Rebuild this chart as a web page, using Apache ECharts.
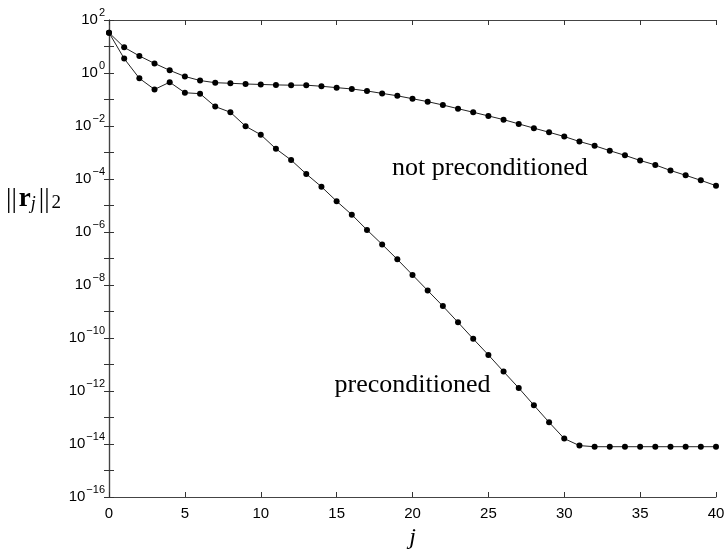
<!DOCTYPE html>
<html>
<head>
<meta charset="utf-8">
<script src="https://cdn.jsdelivr.net/npm/echarts@6/dist/echarts.min.js"></script>
<style>
  html, body { margin: 0; padding: 0; background: #fff; }
  #chart { width: 727px; height: 549px; }
</style>
</head>
<body>
<div id="chart"></div>
<script>
// iteration index j
const iterations = [
  0, 1, 2, 3, 4, 5, 6, 7, 8, 9, 10, 11, 12, 13, 14, 15, 16, 17, 18, 19, 20,
  21, 22, 23, 24, 25, 26, 27, 28, 29, 30, 31, 32, 33, 34, 35, 36, 37, 38, 39, 40
];

// residual norms
const notPreconditioned = [
  33, 9.3, 4.4, 2.3, 1.26, 0.74, 0.52, 0.43, 0.41, 0.385, 0.37,
  0.355, 0.347, 0.347, 0.316, 0.28, 0.25, 0.21, 0.17, 0.138, 0.107,
  0.083, 0.062, 0.045, 0.033, 0.024, 0.0174, 0.012, 0.0083, 0.0058, 0.0040,
  0.0026, 0.0018, 0.00117, 7.8e-4, 5.0e-4, 3.4e-4, 2.1e-4, 1.38e-4, 8.9e-5, 5.6e-5
];

const preconditioned = [
  33, 3.5, 0.63, 0.24, 0.45, 0.18, 0.166, 0.054, 0.033, 0.0098, 0.0047,
  1.38e-3, 5.2e-4, 1.55e-4, 5.1e-5, 1.45e-5, 4.5e-6, 1.2e-6, 3.4e-7, 9.3e-8, 2.4e-8,
  6.2e-9, 1.6e-9, 3.9e-10, 9.3e-11, 2.3e-11, 5.4e-12, 1.3e-12, 2.9e-13, 6.6e-14, 1.6e-14,
  8.7e-15, 7.9e-15, 7.9e-15, 7.9e-15, 7.9e-15, 7.9e-15, 7.9e-15, 7.9e-15, 7.9e-15, 7.9e-15
];

// annotation text and where it sits in data space [j, norm]
const labelTexts = ['not preconditioned', 'preconditioned'];
const labelCoords = [[25.1, 2.6e-4], [20.0, 1.6e-12]];

const sans = 'Liberation Sans, Arial, sans-serif';
const serif = 'Liberation Serif, Times New Roman, serif';

const toPairs = (ys) => iterations.map((j, i) => [j, ys[i]]);

const yLabel = (v) => {
    const e = Math.round(Math.log10(v));
    if (e % 2 !== 0) {
        return '';
    }
    return '{b|10}{s|' + (e < 0 ? '\u2212' + (-e) : e) + '}';
};

const tickStyle = { inside: true, length: 5, lineStyle: { color: '#333', width: 1 } };
const lineStyleAxis = { lineStyle: { color: '#444', width: 1.2 } };

const chart = echarts.init(document.getElementById('chart'), null, { renderer: 'canvas' });

const lineSeries = (name, ys, label, coord) => ({
    name: name,
    type: 'line',
    data: toPairs(ys),
    symbol: 'circle',
    symbolSize: 6,
    itemStyle: { color: '#000' },
    lineStyle: { color: '#222', width: 1 },
    animation: false,
    silent: true,
    markPoint: {
        symbol: 'circle',
        symbolSize: 1,
        itemStyle: { color: 'rgba(0,0,0,0)' },
        label: {
            show: true,
            position: 'inside',
            formatter: label,
            fontFamily: serif,
            fontSize: 26,
            color: '#000'
        },
        data: [{ coord: coord }]
    }
});

chart.setOption({
    animation: false,
    grid: { left: 109, right: 11, top: 20, bottom: 52, containLabel: false, outerBoundsMode: 'none' },
    xAxis: [
        {
            type: 'value',
            min: 0,
            max: 40,
            interval: 5,
            axisLine: lineStyleAxis,
            axisTick: tickStyle,
            splitLine: { show: false },
            axisLabel: { fontFamily: sans, fontSize: 15, color: '#000', margin: 9 },
            name: 'j',
            nameLocation: 'middle',
            nameGap: 28,
            nameTextStyle: { fontFamily: serif, fontStyle: 'italic', fontSize: 24, color: '#000' }
        },
        {
            type: 'value',
            position: 'top',
            min: 0,
            max: 40,
            interval: 5,
            axisLine: lineStyleAxis,
            axisTick: tickStyle,
            splitLine: { show: false },
            axisLabel: { show: false }
        }
    ],
    yAxis: [
        {
            type: 'log',
            logBase: 10,
            min: 1e-16,
            max: 1e2,
            interval: 1,
            axisLine: { show: true, ...lineStyleAxis },
            axisTick: tickStyle,
            splitLine: { show: false },
            axisLabel: {
                margin: 4,
                formatter: yLabel,
                rich: {
                    b: { fontFamily: sans, fontSize: 15, lineHeight: 15, color: '#000', verticalAlign: 'middle' },
                    s: { fontFamily: sans, fontSize: 11, lineHeight: 11, color: '#000', verticalAlign: 'bottom', padding: [0, 0, 9, 1] }
                }
            }
        },
        {
            type: 'log',
            logBase: 10,
            position: 'right',
            min: 1e-16,
            max: 1e2,
            interval: 1,
            axisLine: { show: true, ...lineStyleAxis },
            axisTick: tickStyle,
            splitLine: { show: false },
            axisLabel: { show: false }
        }
    ],
    graphic: [
        {
            type: 'text',
            left: 6,
            top: 186,
            style: {
                text: '{n|||}{r|r}{j|j}{n|||}{s|2}',
                rich: {
                    n: { fontFamily: serif, fontSize: 27, fill: '#000', verticalAlign: 'bottom', padding: [0, 1, 0, 1] },
                    r: { fontFamily: serif, fontSize: 27, fontWeight: 'bold', fill: '#000', verticalAlign: 'bottom', padding: [0, 0, 0, 1] },
                    j: { fontFamily: serif, fontSize: 18, fontStyle: 'italic', fill: '#000', verticalAlign: 'bottom', padding: [0, 2, 0, 0] },
                    s: { fontFamily: serif, fontSize: 19, fill: '#000', verticalAlign: 'bottom', padding: [0, 0, 0, 1] }
                }
            }
        }
    ],
    series: [
        lineSeries('not preconditioned', notPreconditioned, labelTexts[0], labelCoords[0]),
        lineSeries('preconditioned', preconditioned, labelTexts[1], labelCoords[1])
    ]
});
</script>
</body>
</html>
